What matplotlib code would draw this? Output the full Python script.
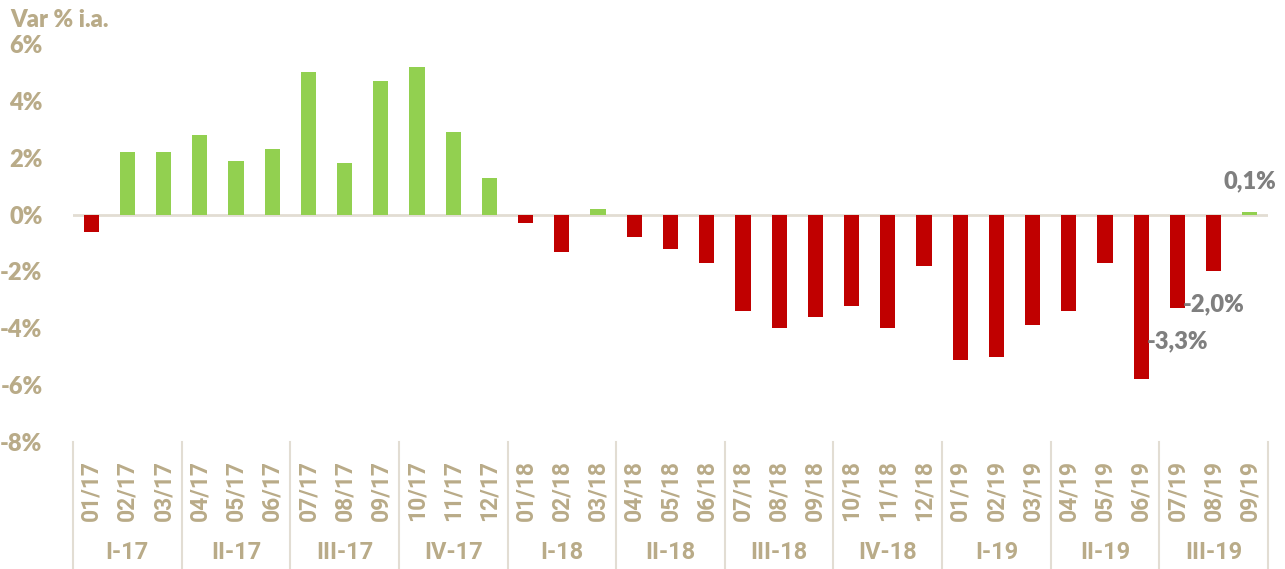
import matplotlib
matplotlib.use("Agg")
import matplotlib.pyplot as plt
import matplotlib.transforms as mtransforms
from matplotlib import font_manager

months = ["01/17", "02/17", "03/17", "04/17", "05/17", "06/17", "07/17", "08/17", "09/17",
          "10/17", "11/17", "12/17", "01/18", "02/18", "03/18", "04/18", "05/18", "06/18",
          "07/18", "08/18", "09/18", "10/18", "11/18", "12/18", "01/19", "02/19", "03/19",
          "04/19", "05/19", "06/19", "07/19", "08/19", "09/19"]
values = [-0.6, 2.2, 2.2, 2.8, 1.9, 2.3, 5.0, 1.8, 4.7,
          5.2, 2.9, 1.3, -0.3, -1.3, 0.2, -0.8, -1.2, -1.7,
          -3.4, -4.0, -3.6, -3.2, -4.0, -1.8, -5.1, -5.0, -3.9,
          -3.4, -1.7, -5.8, -3.3, -2.0, 0.1]
quarters = ["I-17", "II-17", "III-17", "IV-17", "I-18", "II-18", "III-18", "IV-18",
            "I-19", "II-19", "III-19"]
labeled = {"07/19": "-3,3%", "08/19": "-2,0%", "09/19": "0,1%"}
yticks = [-8, -6, -4, -2, 0, 2, 4, 6]

GREEN = "#92d050"
RED = "#c00000"
TAN = "#b9ab88"
LINE = "#e2ddd3"
GREY = "#7f7f7f"

names = {f.name for f in font_manager.fontManager.ttflist}
main_font = "Lato" if "Lato" in names else "DejaVu Sans"
narrow_font = "Roboto" if "Roboto" in names else main_font

fig = plt.figure(figsize=(12.85, 5.69), dpi=100)
ax = fig.add_axes([73/1285, 1-442/569, (1268-73)/1285, (442-44)/569])

x = list(range(len(months)))
colors = [GREEN if v >= 0 else RED for v in values]
ax.bar(x, values, width=0.42, color=colors, zorder=2)
ax.axhline(0, color=LINE, lw=2, zorder=1)

ax.set_xlim(-0.5, len(months) - 0.5)
ax.set_ylim(-8, 6)
for s in ax.spines.values():
    s.set_visible(False)

ax.set_yticks(yticks)
ax.set_yticklabels([f"{t}%" for t in yticks], fontfamily=main_font, fontweight="heavy",
                   fontsize=17, color=TAN)
ax.tick_params(axis="y", length=0, pad=22)

ax.set_xticks(x)
ax.set_xticklabels(months, rotation=90, fontfamily=narrow_font, fontweight="bold",
                   fontsize=16.5, color=TAN)
ax.tick_params(axis="x", length=0, pad=13)

trans = mtransforms.blended_transform_factory(ax.transData, ax.transAxes)
bottom_axes = -(442/569) / ((442-44)/569)  # figure bottom in axes coords
for q in range(len(quarters) + 1):
    xs = q * 3 - 0.5
    ax.plot([xs, xs], [0, bottom_axes], color=LINE, lw=1.5, transform=trans, clip_on=False)
for q, name in enumerate(quarters):
    ax.text(q * 3 + 1, -0.278, name, transform=trans, ha="center", va="center",
            fontfamily=narrow_font, fontweight="bold", fontsize=17, color=TAN)

for i, m in enumerate(months):
    if m in labeled:
        v = values[i]
        off = 22 if v >= 0 else -24
        ax.annotate(labeled[m], (i, v), xytext=(0, off), textcoords="offset points",
                    ha="center", va="center", fontfamily=main_font, fontweight="heavy",
                    fontsize=17, color=GREY)

fig.text(10/1285, 1-20/569, "Var % i.a.", ha="left", va="center", fontfamily=main_font,
         fontweight="heavy", fontsize=17, color=TAN)

fig.savefig("out.png", dpi=100, facecolor="white")
